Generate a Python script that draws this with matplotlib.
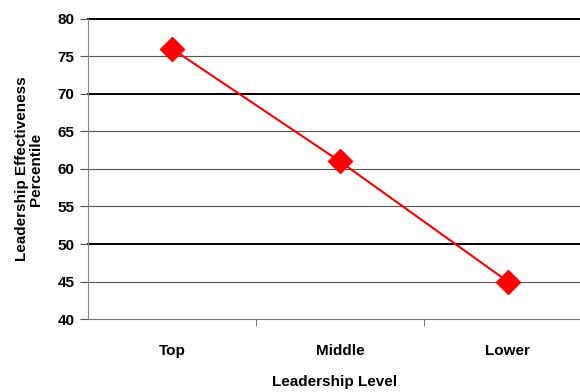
import matplotlib.pyplot as plt

levels = ["Top", "Middle", "Lower"]
percentile = [76, 61, 45]
y_ticks = [40, 45, 50, 55, 60, 65, 70, 75, 80]

plt.rcParams['font.family'] = ['Liberation Sans Narrow', 'Liberation Sans', 'DejaVu Sans']
plt.rcParams['font.weight'] = 'bold'

fig = plt.figure(figsize=(5.8, 3.92), dpi=100)
ax = fig.add_axes([0.152, 0.186, 0.848, 0.766])

x = list(range(len(levels)))
ax.plot(x, percentile, color="#ff0000", lw=1.5, marker="D", markersize=12,
        markeredgecolor="#ff0000", zorder=3)

ax.set_ylim(40, 80)
ax.set_xlim(-0.5, 2.43)
ax.set_yticks(y_ticks)
ax.set_yticklabels([str(v) for v in y_ticks], fontsize=11, fontweight="bold")

# horizontal gridlines (some render heavier in the original)
for v in y_ticks[1:]:
    heavy = v in (80, 70, 50)
    ax.axhline(v, color="#000000" if heavy else "#555555",
               lw=1.4 if heavy else 0.8, zorder=1, clip_on=False)

ax.set_xticks(x)
ax.set_xticklabels(levels, fontsize=11, fontweight="bold")
ax.set_xticks([0.5, 1.5], minor=True)
ax.tick_params(axis="x", which="major", length=0, pad=18)
ax.tick_params(axis="x", which="minor", length=5, color="#555555", direction="out")
ax.tick_params(axis="y", length=6, color="#555555", pad=4)

for s in ("top", "right"):
    ax.spines[s].set_visible(False)
ax.spines["left"].set_color("#888888")
ax.spines["bottom"].set_color("#777777")

ax.set_xlabel("Leadership Level", fontsize=11, fontweight="bold", labelpad=12)
ax.set_ylabel("Leadership Effectiveness\nPercentile", fontsize=11,
              fontweight="bold", labelpad=10, linespacing=1.0)

fig.savefig("out.png", dpi=100, facecolor="white")
